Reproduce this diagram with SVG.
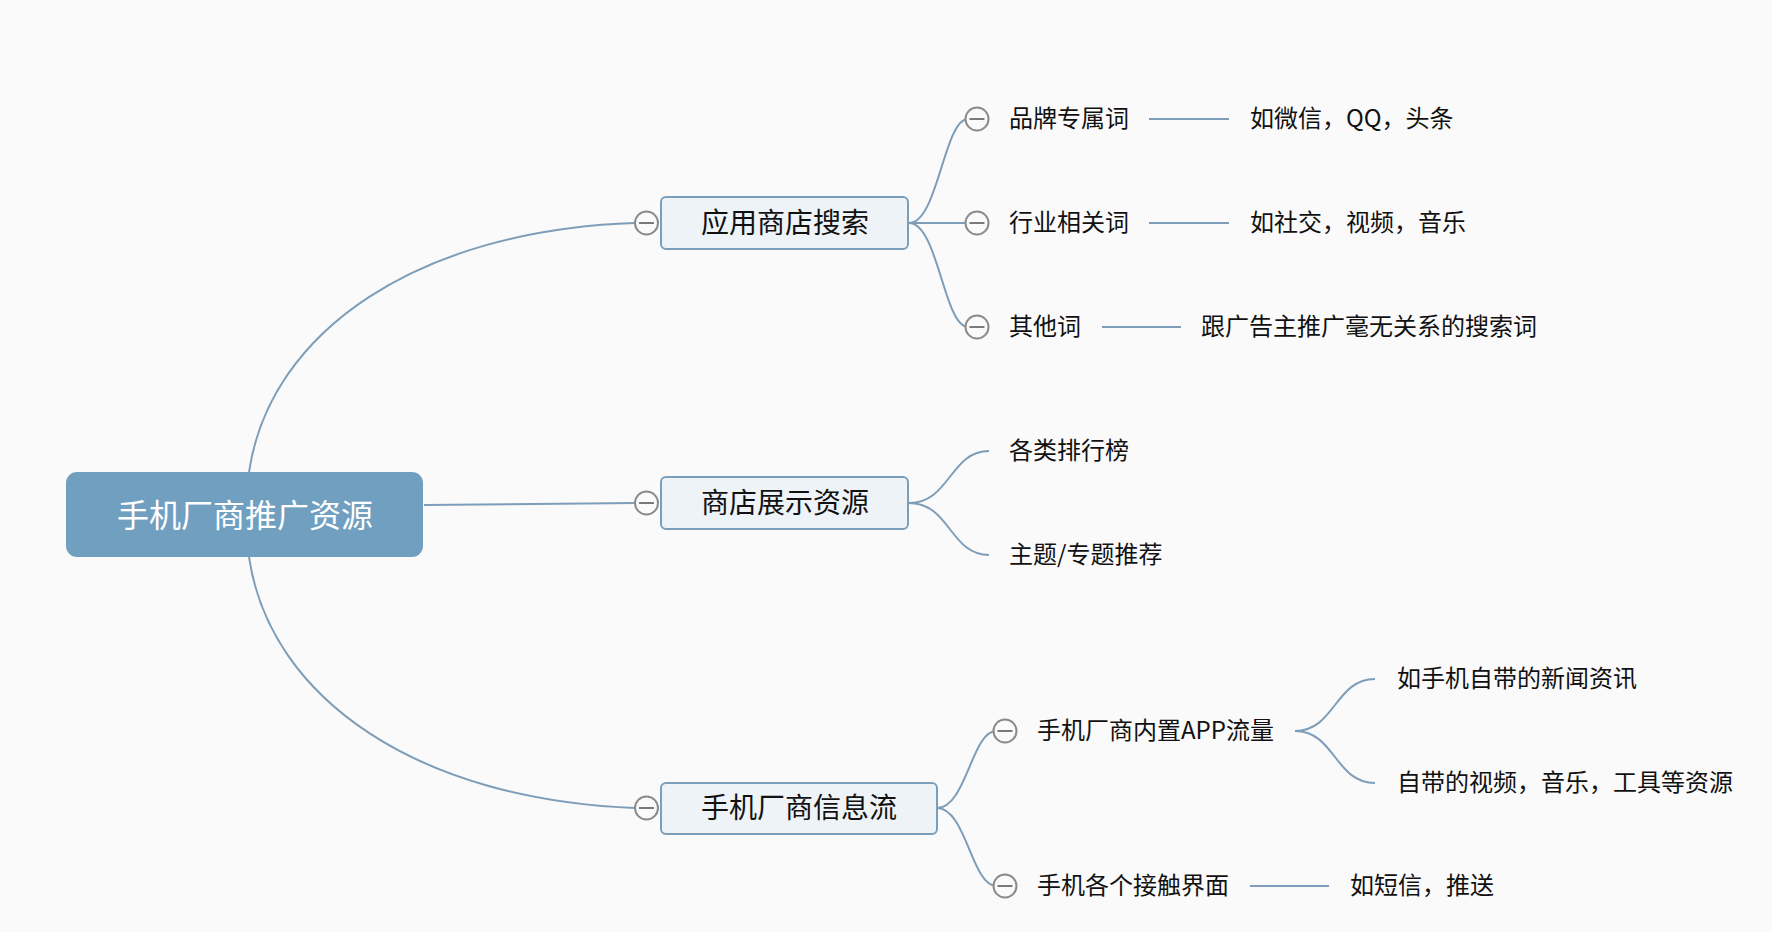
<svg xmlns="http://www.w3.org/2000/svg" width="1772" height="932" viewBox="0 0 1772 932">
<style>
.con{fill:none;stroke:#7d9db8;stroke-width:2}
.t{font-family:"Noto Sans CJK SC","Noto Sans",sans-serif;fill:#111111;dominant-baseline:central}
.t2{font-size:24px}
.t1{font-size:28px;text-anchor:middle}
.box{fill:#eef3f7;stroke:#7a9fbd;stroke-width:2}
.cc{fill:#fafafa;stroke:#8a8a8a;stroke-width:2}
.cm{stroke:#7a7a7a;stroke-width:2}
</style>
<defs>
<g id="collapse"><circle class="cc" cx="0" cy="0" r="11.5"/><line class="cm" x1="-7.5" y1="0" x2="7.5" y2="0"/></g>
</defs>
<rect x="0" y="0" width="1772" height="932" fill="#fafafa"/>
<g id="connectors">
<path class="con" d="M249,472 C270,330 420,230 635,223"/>
<path class="con" d="M424,505 L635,503"/>
<path class="con" d="M249,557 C270,700 420,800 635,808"/>
<path class="con" d="M909,223 C938,223 944,119 968,119"/>
<path class="con" d="M909,223 L968,223"/>
<path class="con" d="M909,223 C938,223 944,327 968,327"/>
<path class="con" d="M1149,119 L1229,119"/>
<path class="con" d="M1149,223 L1229,223"/>
<path class="con" d="M1102,327 L1181,327"/>
<path class="con" d="M909,503 C950,503 950,451 989,451"/>
<path class="con" d="M909,503 C950,503 950,555 989,555"/>
<path class="con" d="M937,808 C966,808 972,731 996,731"/>
<path class="con" d="M937,808 C966,808 972,886 996,886"/>
<path class="con" d="M1295,731 C1335,731 1335,679 1375,679"/>
<path class="con" d="M1295,731 C1335,731 1335,783 1375,783"/>
<path class="con" d="M1250,886 L1329,886"/>
</g>
<g id="root">
<rect x="66" y="472" width="357" height="85" rx="11" fill="#719fc0"/>
<text class="t" x="245" y="513" font-size="32" text-anchor="middle" style="fill:#ffffff">手机厂商推广资源</text>
</g>
<g id="n-appsearch">
<rect class="box" x="661" y="197" width="247" height="52" rx="5"/>
<text class="t t1" x="785" y="221">应用商店搜索</text>
<use href="#collapse" x="646.5" y="223"/>
</g>
<g id="n-display">
<rect class="box" x="661" y="477" width="247" height="52" rx="5"/>
<text class="t t1" x="785" y="501">商店展示资源</text>
<use href="#collapse" x="646.5" y="503"/>
</g>
<g id="n-feed">
<rect class="box" x="661" y="783" width="276" height="51" rx="5"/>
<text class="t t1" x="799" y="806">手机厂商信息流</text>
<use href="#collapse" x="646.5" y="808"/>
</g>
<g id="n-brand">
<use href="#collapse" x="977" y="119"/>
<text class="t t2" x="1009" y="116">品牌专属词</text>
</g>
<g id="n-brand-ex"><text class="t t2" x="1250" y="116">如微信，QQ，头条</text></g>
<g id="n-industry">
<use href="#collapse" x="977" y="223"/>
<text class="t t2" x="1009" y="220">行业相关词</text>
</g>
<g id="n-industry-ex"><text class="t t2" x="1250" y="220">如社交，视频，音乐</text></g>
<g id="n-other">
<use href="#collapse" x="977" y="327"/>
<text class="t t2" x="1009" y="324">其他词</text>
</g>
<g id="n-other-ex"><text class="t t2" x="1201" y="324">跟广告主推广毫无关系的搜索词</text></g>
<g id="n-rank"><text class="t t2" x="1009" y="448">各类排行榜</text></g>
<g id="n-theme"><text class="t t2" x="1009" y="552">主题/专题推荐</text></g>
<g id="n-builtin">
<use href="#collapse" x="1005" y="731"/>
<text class="t t2" x="1037" y="728">手机厂商内置APP流量</text>
</g>
<g id="n-news"><text class="t t2" x="1397" y="676">如手机自带的新闻资讯</text></g>
<g id="n-media"><text class="t t2" x="1397" y="780">自带的视频，音乐，工具等资源</text></g>
<g id="n-touch">
<use href="#collapse" x="1005" y="886"/>
<text class="t t2" x="1037" y="883">手机各个接触界面</text>
</g>
<g id="n-sms"><text class="t t2" x="1350" y="883">如短信，推送</text></g>
</svg>
